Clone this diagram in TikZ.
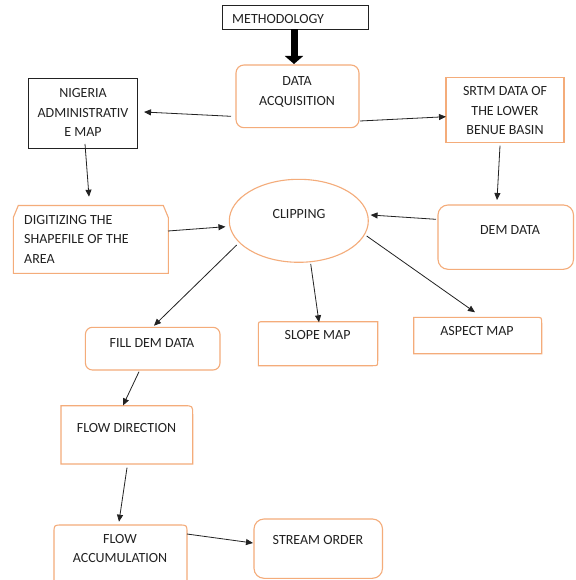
\documentclass[tikz,border=0pt]{standalone}
\usepackage{fontspec}
\setmainfont{Carlito}
\usetikzlibrary{arrows.meta,calc,shapes.geometric}
\definecolor{obox}{RGB}{244,172,122}
\definecolor{ink}{RGB}{34,34,34}
\tikzset{
  geo/.style={rectangle,inner sep=0pt,outer sep=0pt},
  obx/.style={draw=obox,line width=1.1pt},
  kbx/.style={draw=ink,line width=0.9pt},
  txt/.style={font=\fontsize{14}{19.5}\selectfont,text=ink,inner sep=0pt,align=center,anchor=north},
  conn/.style={draw=ink,line width=0.8pt,-{Triangle[length=7pt,width=6pt]}}
}
\begin{document}
\begin{tikzpicture}[x=1pt,y=-1pt]
\clip (0,0) rectangle (575,580);
\fill[white] (0,0) rectangle (575,580);

% boxes
\node[geo,kbx,minimum width=146.5pt,minimum height=23.6pt] (meth) at (295.25,17.5) {};
\node[geo,obx,rounded corners=8pt,minimum width=123pt,minimum height=62.7pt] (da) at (297.5,96.35) {};
\node[geo,kbx,minimum width=109.5pt,minimum height=69.7pt] (nig) at (82.75,113.15) {};
\node[geo,obx,minimum width=118pt,minimum height=65pt] (srtm) at (505,109.8) {};
\node[geo,minimum width=155pt,minimum height=67.8pt] (dig) at (90.8,239.4) {};
\node[ellipse,obx,inner sep=0pt,minimum width=139pt,minimum height=83pt] (clip) at (298.8,220.8) {};
\node[geo,obx,rounded corners=10pt,minimum width=135.5pt,minimum height=64.3pt] (dem) at (505.75,237.15) {};
\node[geo,obx,rounded corners=7pt,minimum width=134.6pt,minimum height=42.7pt] (fill) at (152.7,348.65) {};
\node[geo,minimum width=119.4pt,minimum height=44pt] (slope) at (318,343.7) {};
\node[geo,minimum width=128pt,minimum height=36.4pt] (aspect) at (477.7,335.5) {};
\node[geo,minimum width=131.7pt,minimum height=58.3pt] (fdir) at (126.85,434.85) {};
\node[geo,minimum width=133pt,minimum height=75pt] (facc) at (120.5,562.5) {};
\node[geo,obx,rounded corners=10pt,minimum width=128.5pt,minimum height=59.3pt] (stream) at (318.25,548.65) {};

% custom outlines
\draw[obx] (dig.south west) -- ($(dig.north west)+(0,12)$) -- ($(dig.north west)+(5,0)$)
  -- ($(dig.north east)+(-5,0)$) -- ($(dig.north east)+(0,12)$) -- (dig.south east) -- cycle;
\draw[obx] (slope.south west) -- ($(slope.north west)+(0,5)$) .. controls (slope.north west) .. ($(slope.north west)+(5,0)$)
  -- (slope.north east) -- ($(slope.south east)+(0,-5)$) .. controls (slope.south east) .. ($(slope.south east)+(-5,0)$) -- cycle;
\draw[obx] (aspect.south west) -- (aspect.north west) -- ($(aspect.north east)+(-6,0)$) .. controls (aspect.north east) .. ($(aspect.north east)+(0,6)$)
  -- (aspect.south east) -- cycle;
\draw[obx] (fdir.south west) -- (fdir.north west) -- ($(fdir.north east)+(-9,0)$) .. controls (fdir.north east) .. ($(fdir.north east)+(0,9)$)
  -- (fdir.south east) -- cycle;
\draw[obx] (facc.south west) -- ($(facc.north west)+(0,8)$) .. controls (facc.north west) .. ($(facc.north west)+(8,0)$)
  -- ($(facc.north east)+(-8,0)$) .. controls (facc.north east) .. ($(facc.north east)+(0,8)$) -- (facc.south east) -- cycle;

% texts
\node[txt,anchor=north west] (tmeth) at (232,13.9) {METHODOLOGY};
\node[txt] (tda) at (297,76.6) {DATA\\ACQUISITION};
\node[txt] (tnig) at (83,88.3) {NIGERIA\\ADMINISTRATIV\\E MAP};
\node[txt] (tsrtm) at (505,86.6) {SRTM DATA OF\\THE LOWER\\BENUE BASIN};
\node[txt,anchor=north west,align=left] (tdig) at (24,214.9) {DIGITIZING THE\\SHAPEFILE OF THE\\AREA};
\node[txt] (tclip) at (299,209.6) {CLIPPING};
\node[txt] (tdem) at (510,224.9) {DEM DATA};
\node[txt] (tfill) at (152,337.9) {FILL DEM DATA};
\node[txt] (tslope) at (317.6,330.6) {SLOPE MAP};
\node[txt] (taspect) at (477,326.3) {ASPECT MAP};
\node[txt] (tfdir) at (126.5,423.3) {FLOW DIRECTION};
\node[txt] (tfacc) at (120,533.9) {FLOW\\ACCUMULATION};
\node[txt] (tstream) at (318,534.9) {STREAM ORDER};

% connectors
\draw[draw=black,line width=7pt,-{Triangle[length=8pt,width=18pt]}] ($(meth.south)+(-1.25,0)$) -- ($(da.north)+(-3.5,-1)$);
\draw[conn] ($(da.west)+(-5,19.95)$) -- ($(nig.east)+(6.5,-1.15)$);
\draw[conn] ($(da.east)+(1,24.65)$) -- ($(srtm.west)+(0,6.9)$);
\draw[conn] ($(nig.south)+(2.25,-4)$) -- ($(dig.north)+(-1.8,-8.8)$);
\draw[conn] ($(srtm.south)+(-5,3.4)$) -- ($(dem.north)+(-8.75,-5)$);
\draw[conn] ($(dig.east)+(-0.3,-8.4)$) -- ($(clip.west)+(-3.3,5.9)$);
\draw[conn] ($(dem.west)+(-2,-17.85)$) -- ($(clip.east)+(1.7,-5.8)$);
\draw[conn] ($(clip.center)+(-62.1,24.2)$) -- ($(fill.north)+(1.3,-1.6)$);
\draw[conn] ($(clip.south)+(11.9,1)$) -- ($(slope.north)+(1,0.6)$);
\draw[conn] ($(clip.center)+(67.9,15.2)$) -- ($(aspect.north)+(-2.7,-5)$);
\draw[conn] ($(fill.south)+(-13.7,1.7)$) -- ($(fdir.north)+(-3.85,-0.2)$);
\draw[conn] ($(fdir.south)+(0.15,3.7)$) -- ($(facc.north)+(-1.5,-3.3)$);
\draw[conn] ($(facc.north east)+(0,9)$) -- ($(stream.west)+(-1,-5.65)$);
\end{tikzpicture}
\end{document}
